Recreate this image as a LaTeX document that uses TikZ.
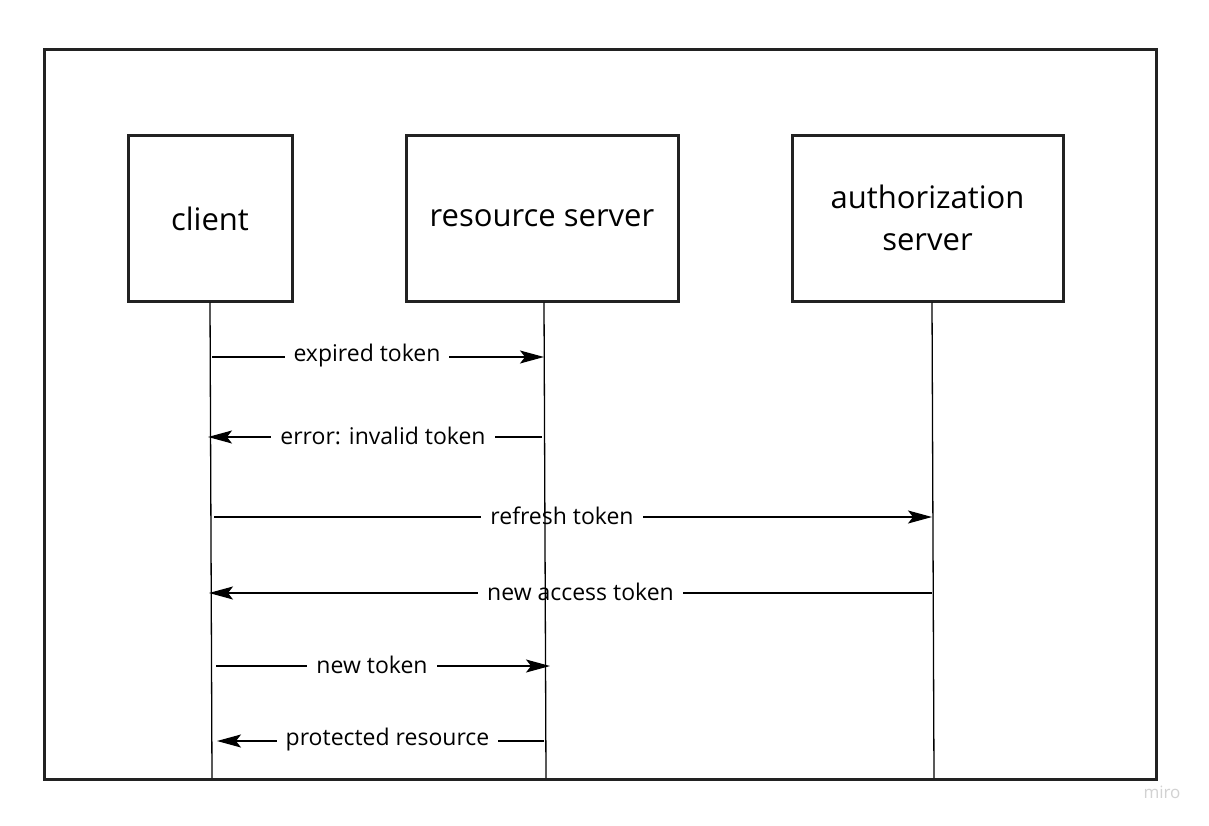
\documentclass[tikz,border=0pt]{standalone}
\usepackage{fontspec}
\setmainfont{Open Sans}
\usetikzlibrary{arrows.meta}
\definecolor{frame}{HTML}{222222}
\tikzset{
  actor/.style={draw=frame, line width=3pt, fill=white, minimum width=#1, minimum height=165pt, inner sep=0pt, align=center, font=\fontsize{31}{42}\selectfont},
  msg/.style={line width=1.3pt, -{Stealth[length=24pt,width=13pt,inset=5pt]}},
  msglabel/.style={fill=white, inner xsep=9pt, inner ysep=2pt, font=\fontsize{23}{26}\selectfont},
  life/.style={line width=1.3pt, black},
}
\begin{document}
\begin{tikzpicture}[x=1pt,y=-1pt]
\useasboundingbox (0,0) rectangle (1209,826);
\fill[white] (0,0) rectangle (1209,826);
\node[draw=frame, line width=3pt, minimum width=1112pt, minimum height=729pt, inner sep=0pt] (frame) at (600,414.5) {};
\node[text=gray!35, font=\fontsize{17}{18}\selectfont] (miro) at (1162,792) {miro};
\node[actor=164pt] (client) at (210,218.5) {client};
\node[actor=272pt] (rs) at (542,218.5) {resource server};
\node[actor=271pt] (as) at (927.5,218.5) {\raisebox{2pt}{authorization}\\\raisebox{2pt}{server}};
% endpoints
\coordinate (c1) at (212,357); \coordinate (r1) at (544,357);
\coordinate (r2) at (542,437); \coordinate (c2) at (208,437);
\coordinate (c3) at (214,517); \coordinate (a3) at (932,517);
\coordinate (a4) at (932,593); \coordinate (c4) at (209,593);
\coordinate (c5) at (216,666); \coordinate (r5) at (550,666);
\coordinate (r6) at (544,741); \coordinate (c6) at (217,741);
\draw[msg] (c1) -- node[msglabel, xshift=-11pt, yshift=1pt] {expired token} (r1);
\draw[msg] (r2) -- node[msglabel, xshift=8pt, yshift=1pt] {error: invalid token} (c2);
\draw[msg] (c3) -- node[msglabel, xshift=-11pt, yshift=1pt] {refresh token} (a3);
\draw[msg] (a4) -- node[msglabel, xshift=10pt, yshift=1pt] {new access token} (c4);
\draw[msg] (c5) -- node[msglabel, xshift=-11pt, yshift=1pt] {new token} (r5);
\draw[msg] (r6) -- node[msglabel, xshift=7pt, yshift=1pt] {protected resource} (c6);
% lifelines
\coordinate (cb) at (212,778); \coordinate (rb) at (546,778); \coordinate (ab) at (934,778);
\draw[life] (client.south) -- (cb);
\draw[life] ([xshift=2pt]rs.south) -- (rb);
\draw[life] ([xshift=4.5pt]as.south) -- (ab);
\end{tikzpicture}
\end{document}
